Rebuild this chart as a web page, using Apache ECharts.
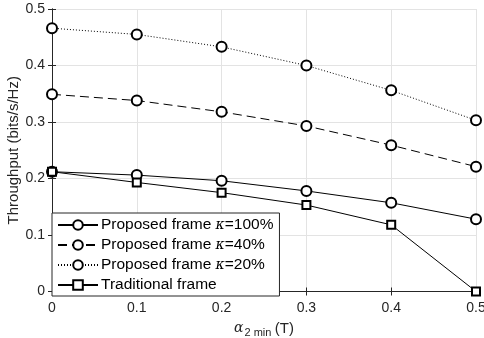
<!DOCTYPE html>
<html><head><meta charset="utf-8">
<script src="https://cdn.jsdelivr.net/npm/echarts@6/dist/echarts.min.js"></script>
<style>html,body{margin:0;padding:0;background:#fff}#c{width:484px;height:338px}</style>
</head><body><div id="c"></div>
<script>
const alpha = [0, 0.1, 0.2, 0.3, 0.4, 0.5];
const kappa100 = [0.212, 0.206, 0.196, 0.178, 0.157, 0.128];
const kappa40 = [0.349, 0.338, 0.318, 0.293, 0.259, 0.221];
const kappa20 = [0.466, 0.455, 0.433, 0.400, 0.356, 0.303];
const traditional = [0.212, 0.193, 0.175, 0.153, 0.118, 0];
const seriesNames = ['Proposed frame κ=100%', 'Proposed frame κ=40%', 'Proposed frame κ=20%', 'Traditional frame'];
const xTicks = [0, 0.1, 0.2, 0.3, 0.4, 0.5];
const yTicks = [0, 0.1, 0.2, 0.3, 0.4, 0.5];

const font = 'Liberation Sans';
const pair = (ys) => alpha.map((x, i) => [x, ys[i]]);
const mk = (name, ys, type, symbol, size) => ({
  name, type: 'line', data: pair(ys), symbol, symbolSize: size,
  lineStyle: {color: '#000', width: 1, type},
  itemStyle: {color: '#000', borderColor: '#000', borderWidth: 1},
  emphasis: {disabled: true}, animation: false, z: 3
});
const chart = echarts.init(document.getElementById('c'), null, {renderer: 'canvas'});
chart.setOption({
  animation: false,
  textStyle: {fontFamily: font},
  grid: {left: 52, right: 8, top: 9, bottom: 46.5, containLabel: false, outerBoundsMode: 'none'},
  xAxis: [{
    type: 'value', min: 0, max: 0.5, interval: 0.1,
    axisLine: {lineStyle: {color: '#262626'}},
    axisTick: {inside: true, length: 4, lineStyle: {color: '#262626'}},
    axisLabel: {color: '#262626', fontSize: 14, margin: 10, formatter: v => String(+v.toFixed(1))},
    splitLine: {lineStyle: {color: '#e3e3e3'}},
    name: '{a|α}{s|2 min} {t|(T)}', nameLocation: 'middle', nameGap: 27, nameMoveOverlap: false,
    nameTextStyle: {rich: {
      a: {fontFamily: 'DejaVu Serif', fontStyle: 'italic', fontSize: 14, color: '#262626'},
      s: {fontSize: 11, color: '#262626', padding: [9, 0, 0, 1]},
      t: {fontSize: 15, color: '#262626'}
    }}
  }, {
    type: 'value', min: 0, max: 0.5, interval: 0.1, position: 'top',
    axisLine: {show: true, lineStyle: {color: '#262626'}},
    axisTick: {show: true, inside: true, length: 4, lineStyle: {color: '#262626'}},
    axisLabel: {show: false}, splitLine: {show: false}
  }],
  yAxis: [{
    type: 'value', min: 0, max: 0.5, interval: 0.1,
    axisLine: {show: true, lineStyle: {color: '#262626'}},
    axisTick: {show: true, inside: true, length: 4, lineStyle: {color: '#262626'}},
    axisLabel: {color: '#262626', fontSize: 14, margin: 7, formatter: v => String(+v.toFixed(1))},
    splitLine: {lineStyle: {color: '#e3e3e3'}},
    name: 'Throughput (bits/s/Hz)', nameLocation: 'middle', nameGap: 31, nameMoveOverlap: false,
    nameTextStyle: {color: '#262626', fontSize: 15}
  }, {
    type: 'value', min: 0, max: 0.5, interval: 0.1, position: 'right',
    axisLine: {show: true, lineStyle: {color: '#262626'}},
    axisTick: {show: true, inside: true, length: 4, lineStyle: {color: '#262626'}},
    axisLabel: {show: false}, splitLine: {show: false}
  }],
  legend: {
    orient: 'vertical', left: 52, top: 213, width: 226,
    backgroundColor: '#fff', borderColor: '#262626', borderWidth: 1, borderRadius: 0,
    padding: [4, 6, 3, 5], itemGap: 4, itemWidth: 40, itemHeight: 12,
    selectedMode: false, z: 10,
    data: seriesNames,
    formatter: n => {
      const m = n.match(/^(.*)κ(.*)$/);
      return m ? m[1] + '{k|κ}' + m[2] : n;
    },
    textStyle: {color: '#000', fontSize: 15.5, fontFamily: font, padding: [0, 0, 0, -2],
      rich: {k: {fontFamily: 'DejaVu Serif', fontStyle: 'italic', fontSize: 14, color: '#000'}}}
  },
  series: [
    mk(seriesNames[0], kappa100, 'solid', 'emptyCircle', 10),
    mk(seriesNames[1], kappa40, [9, 5], 'emptyCircle', 10),
    mk(seriesNames[2], kappa20, [1, 2], 'emptyCircle', 10),
    mk(seriesNames[3], traditional, 'solid', 'emptyRect', 8)
  ]
});
</script></body></html>
